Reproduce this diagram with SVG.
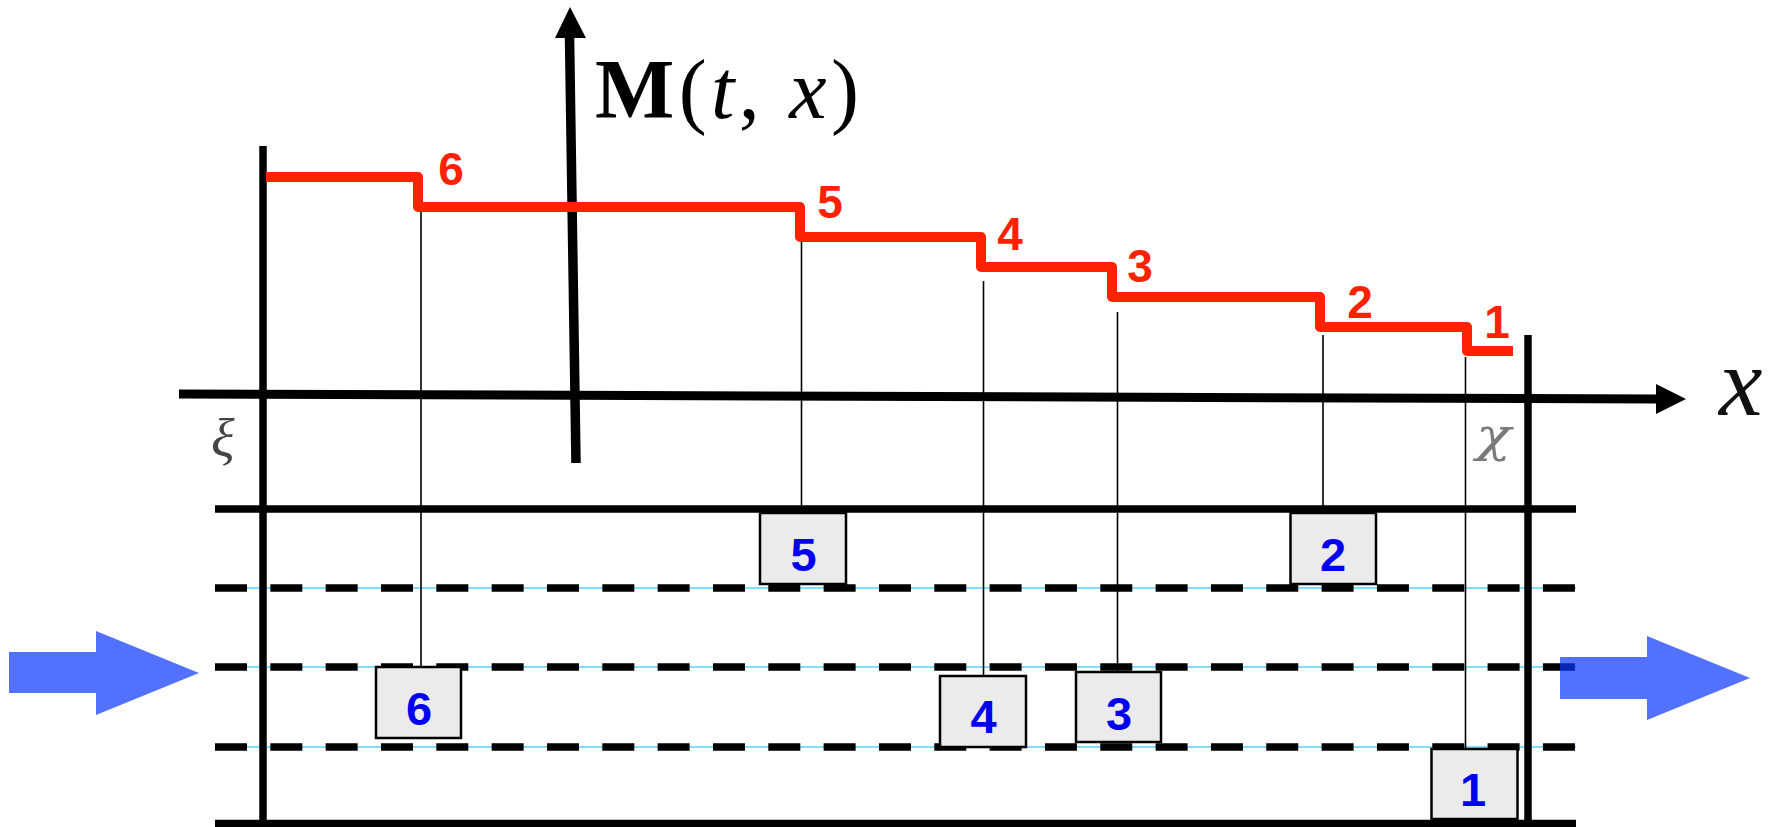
<svg xmlns="http://www.w3.org/2000/svg" width="1787" height="827" viewBox="0 0 1787 827">
<style>
.wall{stroke:#000;stroke-width:7.5;fill:none}
.thin{stroke:#000;stroke-width:1.6;fill:none}
.dash{stroke:#000;stroke-width:7.5;stroke-dasharray:32 23.33;fill:none}
.cyan{stroke:#00c0ff;stroke-width:1.2;fill:none}
.box{fill:#ebebeb;stroke:#000;stroke-width:2.5}
.bl{font-family:"Liberation Sans",Arial,sans-serif;font-weight:bold;font-size:47px;fill:#0000f0;text-anchor:middle}
.rl{font-family:"Liberation Sans",Arial,sans-serif;font-weight:bold;font-size:46px;fill:#ff2200;text-anchor:middle}
.flow{fill:#0834ff;fill-opacity:0.7}
.math{font-family:"Liberation Serif","Times New Roman",serif}
</style>
<rect width="1787" height="827" fill="#fff"/>
<g id="channel">
<line class="cyan" x1="215" y1="588" x2="1576" y2="588"/>
<line class="cyan" x1="215" y1="667" x2="1576" y2="667"/>
<line class="cyan" x1="215" y1="747" x2="1576" y2="747"/>
<line class="dash" x1="215" y1="588" x2="1576" y2="588"/>
<line class="dash" x1="215" y1="667" x2="1576" y2="667"/>
<line class="dash" x1="215" y1="747" x2="1576" y2="747"/>
<line class="wall" x1="215" y1="509" x2="1576" y2="509"/>
<line class="wall" x1="215" y1="823.5" x2="1576" y2="823.5"/>
<line class="wall" x1="263" y1="146" x2="263" y2="827"/>
<line class="wall" x1="1528" y1="335" x2="1528" y2="827"/>
</g>
<g id="axes">
<line x1="179" y1="394" x2="1658" y2="399" stroke="#000" stroke-width="9"/>
<polygon points="1656,384 1686,399 1656,414" fill="#000"/>
<line x1="569.5" y1="36" x2="576" y2="463" stroke="#000" stroke-width="9.5"/>
<polygon points="555,38 570,7 586,38" fill="#000"/>
<text class="math" x="595" y="118" font-size="84" textLength="264" lengthAdjust="spacing"><tspan font-weight="bold">M</tspan>(<tspan font-style="italic">t</tspan>, <tspan font-style="italic">x</tspan>)</text>
<text class="math" x="1719" y="415" font-size="98" font-style="italic" fill="#111">x</text>
<text class="math" x="211" y="457" font-size="55" font-style="italic" fill="#444">ξ</text>
<text x="1476" y="451" font-family="'DejaVu Serif',serif" font-size="46" font-style="italic" fill="#7a7a7a" textLength="35" lengthAdjust="spacingAndGlyphs">χ</text>
</g>
<g id="connectors">
<line class="thin" x1="421" y1="208" x2="421" y2="667"/>
<line class="thin" x1="801.5" y1="223" x2="801.5" y2="513"/>
<line class="thin" x1="983.5" y1="281" x2="983.5" y2="676"/>
<line class="thin" x1="1117.5" y1="312" x2="1117.5" y2="672"/>
<line class="thin" x1="1323" y1="335" x2="1323" y2="513"/>
<line class="thin" x1="1465.5" y1="357" x2="1465.5" y2="749"/>
</g>
<g id="profile">
<path d="M266 177 H418 V207 H800 V237 H981 V267 H1112 V297 H1320 V327 H1467 V351 H1513" fill="none" stroke="#ff2200" stroke-width="10" stroke-linejoin="round"/>
<text class="rl" x="451" y="185">6</text>
<text class="rl" x="830" y="218">5</text>
<text class="rl" x="1010" y="250">4</text>
<text class="rl" x="1140" y="282">3</text>
<text class="rl" x="1360" y="318">2</text>
<text class="rl" x="1497" y="338">1</text>
</g>
<g id="node6"><rect class="box" x="376" y="667" width="85" height="71"/><text class="bl" x="419" y="725">6</text></g>
<g id="node5"><rect class="box" x="760" y="513" width="86" height="71"/><text class="bl" x="803.5" y="571">5</text></g>
<g id="node4"><rect class="box" x="940" y="676" width="86" height="71"/><text class="bl" x="983.5" y="733">4</text></g>
<g id="node3"><rect class="box" x="1076" y="672" width="85" height="70"/><text class="bl" x="1119" y="730">3</text></g>
<g id="node2"><rect class="box" x="1290.5" y="513" width="85.5" height="71"/><text class="bl" x="1333" y="571">2</text></g>
<g id="node1"><rect class="box" x="1431.5" y="749" width="86" height="70"/><text class="bl" x="1473" y="806">1</text></g>
<g id="flow">
<polygon class="flow" points="9,652 96,652 96,631 199,673 96,715 96,693 9,693"/>
<polygon class="flow" points="1560,657 1647,657 1647,636 1750,678 1647,720 1647,699 1560,699"/>
</g>
</svg>
